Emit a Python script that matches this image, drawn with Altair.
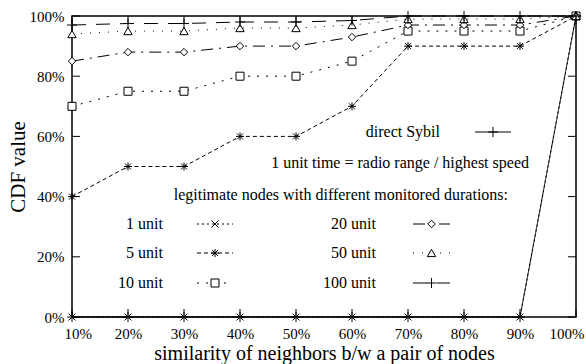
import altair as alt
import pandas as pd

# ---------------- data ----------------
x_vals = [10, 20, 30, 40, 50, 60, 70, 80, 90, 100]
direct_sybil = [0, 0, 0, 0, 0, 0, 0, 0, 0, 100]
unit1 = [0, 0, 0, 0, 0, 0, 0, 0, 0, 100]
unit5 = [40, 50, 50, 60, 60, 70, 90, 90, 90, 100]
unit10 = [70, 75, 75, 80, 80, 85, 95, 95, 95, 100]
unit20 = [85, 88, 88, 90, 90, 93, 97, 97, 97, 100]
unit50 = [94, 95, 95, 96, 96, 97, 99, 99, 99, 100]
unit100 = [97, 97.5, 97.5, 98, 98, 98.5, 100, 100, 100, 100]
y_ticks = [0, 20, 40, 60, 80, 100]

FONT = "Liberation Serif"
W, H = 504, 301
xs = alt.Scale(domain=[10, 100], nice=False, zero=False)
ys = alt.Scale(domain=[0, 100], nice=False, zero=False)

PLUS = "M-1,0L1,0M0,-1L0,1"
CROSS = "M-1,-1L1,1M-1,1L1,-1"
STAR = "M-1,0L1,0M0,-1L0,1M-0.75,-0.75L0.75,0.75M-0.75,0.75L0.75,-0.75"

# name, values, dash, shape, size, fill
series = [
    ("direct Sybil", direct_sybil, [1, 0], PLUS, 100, False),
    ("1 unit", unit1, [2, 3], CROSS, 49, False),
    ("5 unit", unit5, [4, 3], STAR, 64, False),
    ("10 unit", unit10, [2, 7], "square", 64, True),
    ("20 unit", unit20, [12, 6, 2, 6], "diamond", 56, True),
    ("50 unit", unit50, [1, 8], "triangle-up", 70, True),
    ("100 unit", unit100, [14, 10], PLUS, 100, False),
]

x_axis = alt.Axis(values=x_vals, labelExpr="datum.value + '%'",
                  title="similarity of neighbors b/w a pair of nodes",
                  domain=False, ticks=False, tickSize=0, grid=False,
                  labelFlush=True, labelFlushOffset=8, labelOverlap=False,
                  labelFont=FONT, labelFontSize=15, labelPadding=9,
                  labelColor="black", titleColor="black",
                  titleFont=FONT, titleFontSize=20, titleFontWeight="normal",
                  titleBaseline="alphabetic", titleY=42)
y_axis = alt.Axis(values=y_ticks, labelExpr="datum.value + '%'",
                  title="CDF value", domain=False, ticks=False, tickSize=0,
                  grid=False, labelFlush=False, labelOverlap=False,
                  labelFont=FONT, labelFontSize=15, labelPadding=8,
                  labelColor="black", titleColor="black",
                  titleFont=FONT, titleFontSize=21, titleFontWeight="normal",
                  titlePadding=1)

XE = alt.X("x:Q", scale=xs, axis=x_axis)
YE = alt.Y("y:Q", scale=ys, axis=y_axis)

layers = []
for name, vals, dash, shape, size, fill in series:
    df = pd.DataFrame({"x": x_vals, "y": vals})
    line = alt.Chart(df).mark_line(color="black", strokeWidth=1,
                                   strokeDash=dash, clip=False).encode(x=XE, y=YE)
    pt = alt.Chart(df).mark_point(shape=shape, size=size, filled=False,
                                  fill="white" if fill else "transparent",
                                  fillOpacity=1 if fill else 0,
                                  stroke="black", strokeWidth=1, opacity=1,
                                  clip=False).encode(x=XE, y=YE)
    layers += [line, pt]

# inward ticks (mirror on all sides)
ydf = pd.DataFrame({"y": y_ticks})
xdf = pd.DataFrame({"x": x_vals})
layers.append(alt.Chart(ydf).mark_rule(color="black", strokeWidth=1).encode(
    y=YE, x=alt.value(0), x2=alt.value(8)))
layers.append(alt.Chart(ydf).mark_rule(color="black", strokeWidth=1).encode(
    y=YE, x=alt.value(W - 8), x2=alt.value(W)))
layers.append(alt.Chart(xdf).mark_rule(color="black", strokeWidth=1).encode(
    x=XE, y=alt.value(H - 8), y2=alt.value(H)))
layers.append(alt.Chart(xdf).mark_rule(color="black", strokeWidth=1).encode(
    x=XE, y=alt.value(0), y2=alt.value(8)))

# ---------------- key / annotations ----------------
def txt(s, x, y, align="right"):
    return alt.Chart(pd.DataFrame({"a": [0]})).mark_text(
        font=FONT, fontSize=16, color="black", align=align, baseline="middle"
    ).encode(x=alt.value(x), y=alt.value(y), text=alt.value(s))

def sample(x1, x2, y, dash, shape, size, fill):
    d = pd.DataFrame({"a": [0]})
    r = alt.Chart(d).mark_rule(color="black", strokeWidth=1, strokeDash=dash).encode(
        x=alt.value(x1), x2=alt.value(x2), y=alt.value(y))
    p = alt.Chart(d).mark_point(shape=shape, size=size, filled=False,
                                fill="white" if fill else "transparent",
                                fillOpacity=1 if fill else 0,
                                stroke="black", strokeWidth=1, opacity=1).encode(
        x=alt.value((x1 + x2) / 2), y=alt.value(y))
    return [r, p]

layers.append(txt("direct Sybil", 368, 116))
layers += sample(403, 439, 116, [1, 0], PLUS, 100, False)
layers.append(txt("1 unit time = radio range / highest speed", 457, 147))
layers.append(txt("legitimate nodes with different monitored durations:", 436, 179))

left_keys = series[1:4]
right_keys = series[4:7]
rows_y = [208, 237, 267]
for (name, vals, dash, shape, size, fill), yy in zip(left_keys, rows_y):
    layers.append(txt(name, 91, yy))
    layers += sample(125, 161, yy, dash, shape, size, fill)
for (name, vals, dash, shape, size, fill), yy in zip(right_keys, rows_y):
    layers.append(txt(name, 304, yy))
    layers += sample(341, 378, yy, dash, shape, size, fill)

chart = alt.layer(*layers).properties(
    width=W, height=H,
    autosize=alt.AutoSizeParams(type="none"),
    padding={"left": 72, "top": 16, "right": 10, "bottom": 47},
    background="white",
).configure_view(stroke="black", strokeWidth=1.5)

chart.save("out.html", embed_options={"renderer": "svg", "actions": False})
